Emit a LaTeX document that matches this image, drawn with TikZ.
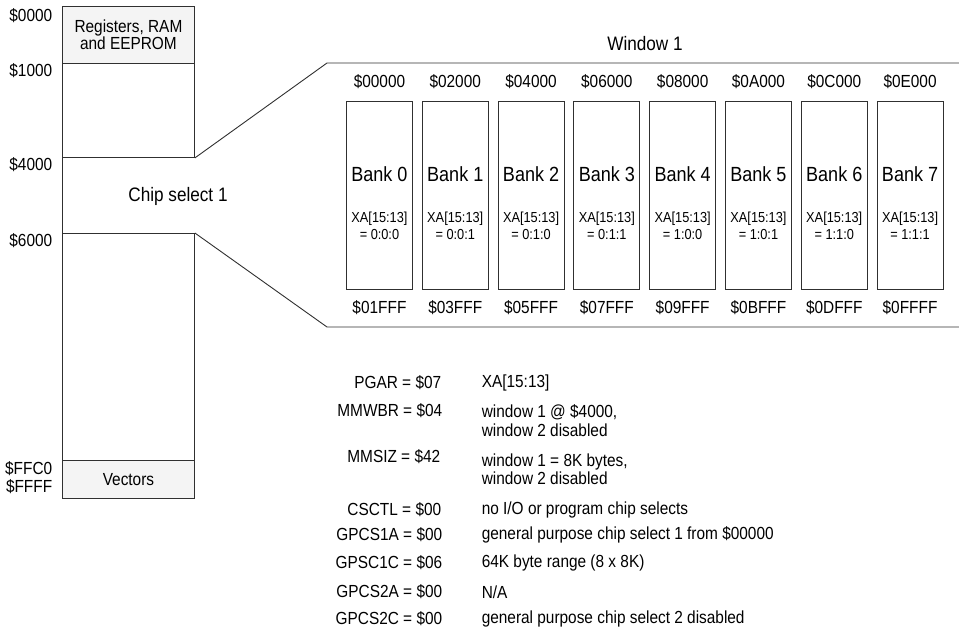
\documentclass[tikz,border=0pt]{standalone}
\usepackage{fontspec}
\setmainfont{Liberation Sans}[FakeStretch=0.88]
\definecolor{ln}{HTML}{303030}
\definecolor{lightfill}{HTML}{F4F4F4}
\begin{document}
\begin{tikzpicture}[x=1pt,y=-1pt,line width=0.9pt,
  mapbox/.style={draw=ln,fill=lightfill,minimum width=132pt,inner sep=0pt,align=center,font=\fontsize{17.5}{17.5}\selectfont},
  bankbox/.style={draw=ln,minimum width=66pt,minimum height=188pt,anchor=north west,inner sep=0pt},
  banklbl/.style={font=\fontsize{20.5}{20.5}\selectfont},
  xalbl/.style={font=\fontsize{14.5}{17}\selectfont,align=center},
  addr/.style={font=\fontsize{17.5}{17.5}\selectfont},
  maplbl/.style={font=\fontsize{17.5}{17.5}\selectfont,anchor=east,align=right},
  reg/.style={font=\fontsize{17.5}{17.5}\selectfont,anchor=east},
  desc/.style={font=\fontsize{17.5}{18.5}\selectfont,anchor=west,align=left},
  wire/.style={draw=ln,line width=0.9pt}]
\useasboundingbox (0,0) rectangle (959,633);

% memory map
\node[mapbox,minimum height=57pt,anchor=north west] (regs) at (62,6) {Registers, RAM\\[-1pt]and EEPROM};
\node[mapbox,fill=white,minimum height=94pt,anchor=north west] (upper) at (62,63) {};
\node[mapbox,fill=white,minimum height=227pt,anchor=north west] (lower) at (62,233) {};
\node[mapbox,minimum height=38pt,anchor=north west] (vect) at (62,460) {Vectors};
\draw[wire] (upper.south west) -- (lower.north west);
\node[font=\fontsize{19.5}{19.5}\selectfont] (cs) at (178,196) {Chip select 1};

% window outline
\coordinate (wtl) at (327,63);
\coordinate (wtr) at (959,63);
\coordinate (wbl) at (327,327);
\coordinate (wbr) at (959,327);
\draw[wire] (upper.south east) -- (wtl) -- (wtr);
\draw[wire] (lower.north east) -- (wbl) -- (wbr);
\node[font=\fontsize{19.5}{19.5}\selectfont] (win) at (645,44) {Window 1};

% map labels
\node[maplbl] (a0) at (56,16) {\$0000};
\node[maplbl] (a1) at (56,71) {\$1000};
\node[maplbl] (a4) at (56,165) {\$4000};
\node[maplbl] (a6) at (56,241) {\$6000};
\node[maplbl] (af0) at (56,469) {\$FFC0};
\node[maplbl] (aff) at (56,487) {\$FFFF};

% banks
\foreach \i/\s/\e/\v in {0/00000/01FFF/0:0:0,1/02000/03FFF/0:0:1,2/04000/05FFF/0:1:0,3/06000/07FFF/0:1:1,4/08000/09FFF/1:0:0,5/0A000/0BFFF/1:0:1,6/0C000/0DFFF/1:1:0,7/0E000/0FFFF/1:1:1}{
  \node[bankbox] (b\i) at ({346+75.8*\i},101) {};
  \node[banklbl] (bl\i) at ([yshift=-73pt]b\i.north) {Bank \i};
  \node[xalbl] (bx\i) at ([yshift=-125pt]b\i.north) {XA[15:13]\\= \v};
  \node[addr] (bs\i) at ([yshift=19pt]b\i.north) {\$\s};
  \node[addr] (be\i) at ([yshift=-18pt]b\i.south) {\$\e};
}

% register table
\node[reg] (r1) at (445,383) {PGAR = \$07};
\node[desc] (d1) at (478,383) {XA[15:13]};
\node[reg] (r2) at (446,411) {MMWBR = \$04};
\node[desc,anchor=north west] (d2) at (478,401) {window 1 @ \$4000,\\window 2 disabled};
\node[reg] (r3) at (444,457) {MMSIZ = \$42};
\node[desc,anchor=north west] (d3) at (478,450) {window 1 = 8K bytes,\\window 2 disabled};
\node[reg] (r4) at (445,510) {CSCTL = \$00};
\node[desc] (d4) at (478,510) {no I/O or program chip selects};
\node[reg] (r5) at (446,535) {GPCS1A = \$00};
\node[desc] (d5) at (478,535) {general purpose chip select 1 from \$00000};
\node[reg] (r6) at (446,563) {GPSC1C = \$06};
\node[desc] (d6) at (478,563) {64K byte range (8 x 8K)};
\node[reg] (r7) at (446,592) {GPCS2A = \$00};
\node[desc] (d7) at (478,592) {N/A};
\node[reg] (r8) at (446,619) {GPCS2C = \$00};
\node[desc] (d8) at (478,619) {general purpose chip select 2 disabled};
\end{tikzpicture}
\end{document}
